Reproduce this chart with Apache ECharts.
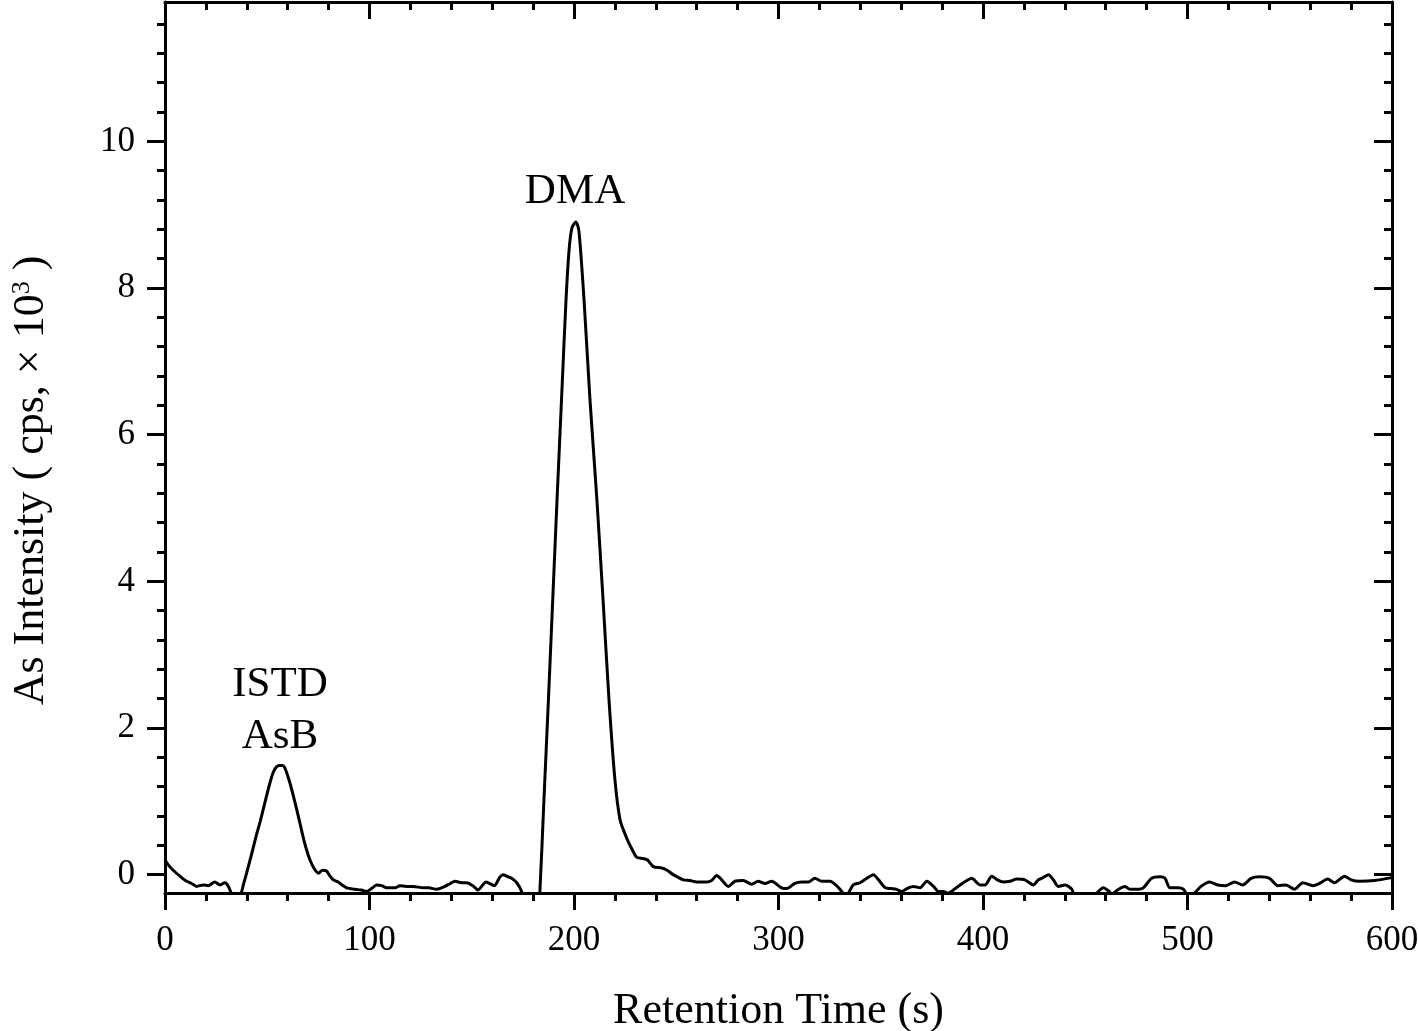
<!DOCTYPE html>
<html>
<head>
<meta charset="utf-8">
<script src="https://cdn.jsdelivr.net/npm/echarts@6/dist/echarts.min.js"></script>
<style>
html,body{margin:0;padding:0;background:#fff;overflow:hidden;width:1418px;height:1031px;}
#chart{width:1418px;height:1031px;}
</style>
</head>
<body>
<div id="chart"></div>
<script>
// Retention time (s)
const time = [0,2,4,7.3,10,13,15.5,18.7,21.2,24.4,26.9,29.3,31,32.6,34,36.7,38.5,40,41.6,43,44.5,46.5,49,51.3,53,54.5,56,57.5,58.7,60,61.1,62.8,64.4,66,67.5,69,70.9,73,75,77,79,80.7,82.3,84.7,86.5,88.8,92.9,96,98.6,101,103.5,106,108.4,112.5,114.9,118,121.4,126.3,129,132.9,136.9,139.5,141.8,145,147.5,151,153,157,161,163.8,165.4,167,169.5,172,174.4,176,180,182.5,183.2,185.3,187.5,189.6,191.7,193.9,196.1,197.6,199,200.9,202.4,204.9,207.8,211.2,214.2,217.1,220,222.5,225,226.5,228.5,230.6,233.7,236,238.8,242.9,245.5,248.5,253.4,256.7,260,264.9,267.3,269.8,272.2,275.4,278.7,282.8,286.9,290,293.4,296.6,301.5,304,308,311.3,314.6,317.8,321.1,325.2,328,330.9,332.5,334,336.6,339.9,343.2,346.4,348.9,352.2,355,357.8,360.2,363.5,366,369.2,372.5,375.8,378.2,380.6,383,385.5,388.8,391.5,394.5,398.5,401,404.3,407,410,413.2,416.5,420.5,424.6,427.1,430,432,434.4,436.8,440.1,443.4,445,450,454,456,458.8,461.3,463,466.2,469.4,471.9,476,478.4,482.5,486.6,489,491.4,495.5,498,500,503,506.6,510.7,514.8,518.8,522.9,527,531.1,535.2,540.1,544.2,548.2,552.3,556.4,561.3,564.5,568.6,571.9,576.8,580,584.1,591.4,600];
// As intensity (cps x 10^3)
const intensity = [0.2,0.12,0.06,-0.02,-0.08,-0.12,-0.16,-0.14,-0.15,-0.1,-0.14,-0.11,-0.16,-0.27,-0.4,-0.3,-0.12,0.03,0.2,0.35,0.52,0.72,1.0,1.25,1.4,1.47,1.49,1.49,1.45,1.35,1.25,1.07,0.89,0.7,0.52,0.36,0.2,0.08,0.02,0.06,0.05,-0.02,-0.07,-0.1,-0.14,-0.18,-0.2,-0.21,-0.23,-0.19,-0.14,-0.15,-0.18,-0.18,-0.15,-0.16,-0.16,-0.18,-0.18,-0.2,-0.16,-0.12,-0.09,-0.11,-0.11,-0.16,-0.21,-0.1,-0.15,-0.03,0.0,-0.02,-0.05,-0.11,-0.23,-0.4,-0.45,-0.4,-0.3,1.02,2.39,3.75,5.11,6.48,7.84,8.52,8.82,8.9,8.78,7.84,6.48,5.11,3.75,2.39,1.3,0.75,0.55,0.45,0.34,0.24,0.22,0.2,0.11,0.09,0.06,0.0,-0.07,-0.08,-0.1,-0.1,-0.08,-0.01,-0.07,-0.16,-0.09,-0.08,-0.13,-0.09,-0.12,-0.09,-0.18,-0.19,-0.12,-0.1,-0.1,-0.05,-0.09,-0.09,-0.14,-0.23,-0.3,-0.26,-0.14,-0.11,-0.05,0.0,-0.07,-0.18,-0.19,-0.2,-0.23,-0.18,-0.16,-0.18,-0.09,-0.16,-0.23,-0.23,-0.25,-0.21,-0.14,-0.09,-0.05,-0.14,-0.14,-0.02,-0.07,-0.1,-0.09,-0.06,-0.07,-0.14,-0.07,-0.03,0.0,-0.07,-0.16,-0.14,-0.2,-0.3,-0.35,-0.3,-0.24,-0.18,-0.22,-0.26,-0.2,-0.16,-0.2,-0.2,-0.18,-0.05,-0.03,-0.05,-0.18,-0.18,-0.2,-0.27,-0.26,-0.16,-0.1,-0.14,-0.15,-0.1,-0.14,-0.05,-0.03,-0.05,-0.15,-0.14,-0.2,-0.11,-0.15,-0.12,-0.06,-0.11,-0.02,-0.07,-0.09,-0.08,-0.04];

const xTicks = [0,100,200,300,400,500,600];
const yTicks = [0,2,4,6,8,10];
const yMinorTicks = [0.4,0.8,1.2,1.6,2.4,2.8,3.2,3.6,4.4,4.8,5.2,5.6,6.4,6.8,7.2,7.6,8.4,8.8,9.2,9.6,10.4,10.8,11.2,11.6];

const annotations = [
  {text: 'DMA', t: 200.5, v: 9.31},
  {text: 'ISTD', t: 56.2, v: 2.59},
  {text: 'AsB', t: 56.2, v: 1.88}
];

const FONT = '"Liberation Serif", "DejaVu Serif", serif';
const lineStyle = {color:'#000', width:3};
const Y_MIN = -0.25, Y_MAX = 11.9;

const chart = echarts.init(document.getElementById('chart'), null, {width:1418, height:1031});
const data = time.map((t,i)=>[t,intensity[i]]);

function yAxis(pos, ticks, len, inside, showLine, labels) {
  return {
    type:'value', position:pos, min:Y_MIN, max:Y_MAX,
    axisLine:{show:showLine, onZero:false, lineStyle:lineStyle},
    axisTick:{show:true, inside:inside, length:len, customValues:ticks, lineStyle:lineStyle},
    axisLabel: labels ? {show:true, customValues:ticks, margin:30, color:'#000', fontSize:35, fontFamily:FONT} : {show:false},
    splitLine:{show:false}
  };
}

chart.setOption({
  animation:false,
  backgroundColor:'#fff',
  grid:{left:165, right:26, top:2, bottom:138, containLabel:false, outerBoundsMode:'none'},
  xAxis:[
    {type:'value', position:'bottom', min:0, max:600, interval:100,
     name:'Retention Time (s)', nameLocation:'middle', nameGap:96,
     nameTextStyle:{color:'#000', fontSize:44, fontFamily:FONT},
     axisLine:{onZero:false, lineStyle:lineStyle},
     axisTick:{length:17, lineStyle:lineStyle},
     minorTick:{show:true, splitNumber:5, length:8, lineStyle:lineStyle},
     axisLabel:{margin:30, color:'#000', fontSize:35, fontFamily:FONT},
     splitLine:{show:false}},
    {type:'value', position:'top', min:0, max:600, interval:100,
     axisLine:{onZero:false, lineStyle:lineStyle},
     axisTick:{inside:true, length:17, lineStyle:lineStyle},
     minorTick:{show:true, splitNumber:5, length:8, lineStyle:lineStyle},
     axisLabel:{show:false}, splitLine:{show:false}}
  ],
  yAxis:[
    Object.assign(yAxis('left', yTicks, 18, false, true, true), {
      name:'As Intensity ( cps, × 10{sup|3} )', nameLocation:'middle', nameGap:112,
      nameTextStyle:{color:'#000', fontSize:44, fontFamily:FONT, padding:[0,66,0,0],
        rich:{sup:{fontSize:26, fontFamily:FONT, color:'#000', verticalAlign:'top', padding:[0,0,18,0]}}}
    }),
    yAxis('left', yMinorTicks, 8, false, false, false),
    yAxis('right', yTicks, 18, true, true, false),
    yAxis('right', yMinorTicks, 8, true, false, false)
  ],
  series:[
    {type:'line', xAxisIndex:0, yAxisIndex:0, data:data, showSymbol:false, symbol:'none',
     smooth:0.25, clip:true, lineStyle:{color:'#000', width:3}},
    {type:'scatter', xAxisIndex:0, yAxisIndex:0, symbolSize:0, silent:true,
     itemStyle:{color:'#000', opacity:1},
     data:annotations.map(a=>({value:[a.t,a.v], label:{formatter:a.text}})),
     label:{show:true, position:'inside', color:'#000', opacity:1, textBorderWidth:0, fontSize:43, fontFamily:FONT}}
  ]
});
</script>
</body>
</html>
